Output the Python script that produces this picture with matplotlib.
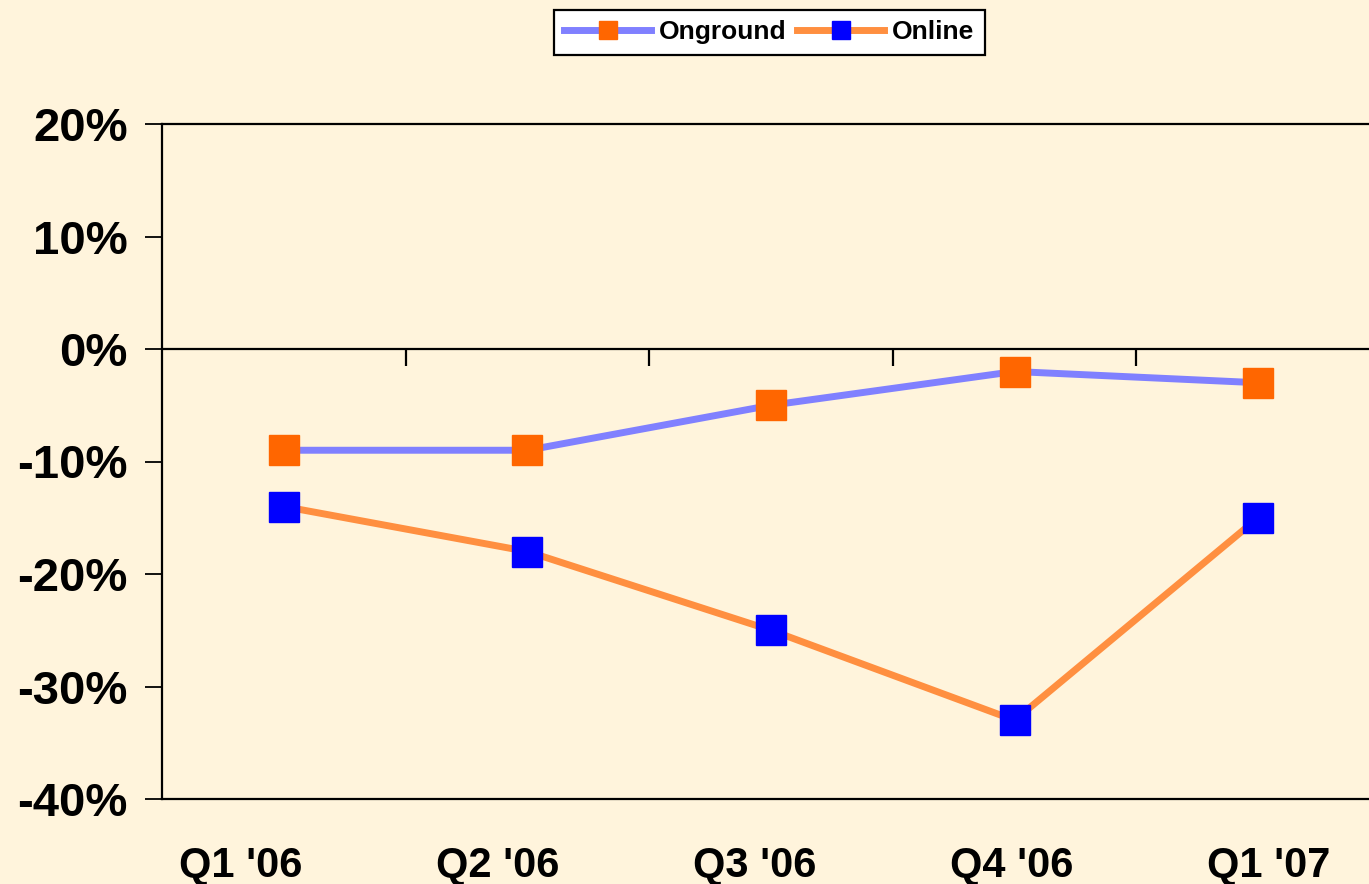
import numpy as np
import matplotlib.pyplot as plt
from matplotlib.ticker import FuncFormatter

quarters = ["Q1 '06", "Q2 '06", "Q3 '06", "Q4 '06", "Q1 '07"]
onground = [-9, -9, -5, -2, -3]
online = [-14, -18, -25, -33, -15]
y_ticks = [-40, -30, -20, -10, 0, 10, 20]

bg = '#FFF4DC'
plt.rcParams['font.family'] = ['Liberation Sans', 'DejaVu Sans']
plt.rcParams['font.weight'] = 'bold'

fig = plt.figure(figsize=(13.69, 8.84), dpi=100, facecolor=bg)
ax = fig.add_axes([162 / 1369, 85 / 884, 1218 / 1369, 675 / 884], facecolor=bg)

x = np.arange(len(quarters))
ax.plot(x, onground, color='#8080FF', lw=5, marker='s', ms=22,
        mfc='#FF6600', mec='#FF6600', label='Onground', zorder=3)
ax.plot(x, online, color='#FF8F40', lw=5, marker='s', ms=22,
        mfc='#0000FF', mec='#0000FF', label='Online', zorder=3)

ax.set_xlim(-0.5, len(quarters) - 0.5)
ax.set_ylim(-40, 20)

# zero line with category separators hanging below it
ax.axhline(0, color='black', lw=1.6, zorder=2)
ax.vlines(x[:-1] + 0.5, -1.5, 0, color='black', lw=1.6, zorder=2)

ax.set_yticks(y_ticks)
ax.yaxis.set_major_formatter(FuncFormatter(lambda v, p: f'{v:.0f}%'))
ax.tick_params(axis='y', direction='out', length=12.5, width=1.3,
               labelsize=34, pad=12)

# category labels are spread a little wider than the points
mid = (len(quarters) - 1) / 2
label_pos = (x - mid) * 1.055 + mid - 0.066
ax.set_xticks(label_pos)
ax.set_xticklabels(quarters)
ax.tick_params(axis='x', length=0, labelsize=30, pad=34)

for side in ['left', 'bottom', 'top']:
    ax.spines[side].set_linewidth(1.6)
ax.spines['right'].set_visible(False)

leg = fig.legend(loc='upper center', bbox_to_anchor=(0.562, 0.989), ncol=2,
                 fontsize=19, handlelength=3.3, markerscale=0.62,
                 frameon=True, fancybox=False, edgecolor='black',
                 facecolor='white', framealpha=1, borderpad=0.4,
                 columnspacing=0.4, handletextpad=0.3, borderaxespad=0)
leg.get_frame().set_linewidth(1.6)

plt.savefig('out.png', dpi=100, facecolor=bg)
